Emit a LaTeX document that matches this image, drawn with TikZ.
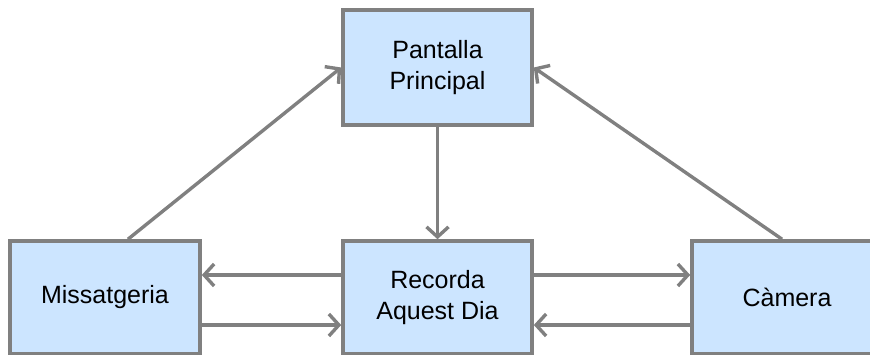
\documentclass[tikz,border=0pt]{standalone}
\usepackage{fontspec}
\setmainfont{Liberation Sans}
\usetikzlibrary{arrows.meta,shapes,positioning}

\tikzset{
  screen/.style={draw=linegray,fill=boxblue,line width=1.8pt,
    align=center,inner sep=0pt,font=\fontsize{12.5}{15.5}\selectfont},
  link/.style={draw=linegray,line width=1.7pt,
    -{Straight Barb[length=5pt,width=11pt]}}
}
\definecolor{linegray}{HTML}{808080}
\definecolor{boxblue}{HTML}{CCE5FF}

\begin{document}
\begin{tikzpicture}[x=0.5pt,y=-0.5pt]
  % fix the page to the reference size
  \useasboundingbox (0,0) rectangle (870,354);

  % the main screen at the top
  \node[screen,minimum width=94.5pt,minimum height=57.5pt] (pantalla) at (437.5,67.5) {Pantalla\\Principal};

  % the three screens on the bottom row
  \node[screen,minimum width=95pt,minimum height=56.5pt] (missatgeria) at (105,297.5) {Missatgeria};
  \node[screen,minimum width=94.5pt,minimum height=56.5pt] (recorda) at (437.5,297.5) {Recorda\\Aquest Dia};
  \node[screen,minimum width=95pt,minimum height=56.5pt] (camera) at (787,297.5) {Càmera};

  % main screen goes down to the middle one
  \draw[link] (pantalla.south) -- (recorda.north);

  % the side screens go back up to the main screen
  \draw[link] ([xshift=11.5pt]missatgeria.north) -- (pantalla.west);
  \draw[link] ([xshift=-2.5pt]camera.north) -- (pantalla.east);

  % back and forth between the bottom screens
  \draw[link] ([yshift=11.25pt]recorda.west) -- ([yshift=11.25pt]missatgeria.east);
  \draw[link] ([yshift=-13.75pt]missatgeria.east) -- ([yshift=-13.75pt]recorda.west);
  \draw[link] ([yshift=11.25pt]recorda.east) -- ([yshift=11.25pt]camera.west);
  \draw[link] ([yshift=-13.75pt]camera.west) -- ([yshift=-13.75pt]recorda.east);
\end{tikzpicture}
\end{document}
